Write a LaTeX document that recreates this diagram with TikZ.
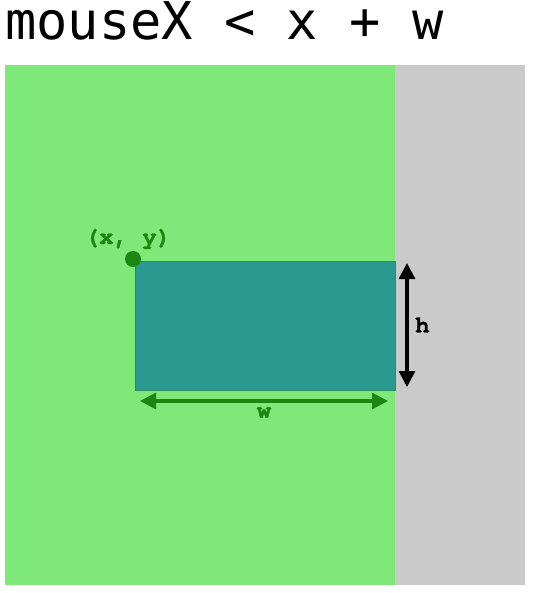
\documentclass[tikz,border=0pt]{standalone}
\usepackage{fontspec}
\setmonofont{DejaVu Sans Mono}
\newfontfamily\labelfont{texgyrecursor}[Extension=.otf,UprightFont=*-regular,BoldFont=*-bold,BoldFeatures={FakeBold=1.2}]
\usepackage{xcolor}
\usetikzlibrary{arrows.meta,positioning,calc}
\definecolor{Lawn}{HTML}{7EE878}
\definecolor{Ash}{HTML}{CACACA}
\definecolor{Teal}{HTML}{2A9A90}
\definecolor{TealD}{HTML}{2A8A60}
\definecolor{Leaf}{HTML}{1C8612}

\begin{document}
\begin{tikzpicture}[x=1pt,y=-1pt,
    area/.style={inner sep=0pt,outer sep=0pt,anchor=north west},
    tag/.style={font=\labelfont\bfseries\fontsize{24}{24}\selectfont,inner sep=0pt},
    dim/.style={{Triangle[length=16pt,width=16pt]}-{Triangle[length=16pt,width=16pt]},line width=3.2pt},
    >=Stealth]
  \useasboundingbox (0,0) rectangle (532,593);
  \node[area,fill=Lawn,minimum width=390pt,minimum height=520pt] (canvas) at (5,65) {};
  \node[area,fill=Ash,minimum width=130pt,minimum height=520pt] (outside) at (395,65) {};
  \node[area,fill=Teal,draw=TealD,line width=0.8pt,minimum width=260pt,minimum height=129pt] (box) at (135,261) {};
  \node[circle,fill=Leaf,minimum size=16pt,inner sep=0pt] (corner) at (133,259) {};
  \node[tag,text=Leaf,anchor=base] (xy) at (128,244) {(x, y)};
  % dimension arrows
  \coordinate (htop) at (407,263);
  \coordinate (hbot) at (407,387);
  \draw[dim,black] (htop) -- (hbot);
  \node[tag,right=8pt of $(htop)!0.5!(hbot)$] (hlab) {h};
  \coordinate (wl) at (140,401);
  \coordinate (wr) at (388,401);
  \draw[dim,Leaf] (wl) -- (wr);
  \node[tag,text=Leaf,below=6pt of $(wl)!0.5!(wr)$] (wlab) {w};
  \node[anchor=base west,inner sep=0pt,font=\ttfamily\fontsize{52}{52}\selectfont] (title) at (5,39.5) {mouseX < x + w};
\end{tikzpicture}
\end{document}
